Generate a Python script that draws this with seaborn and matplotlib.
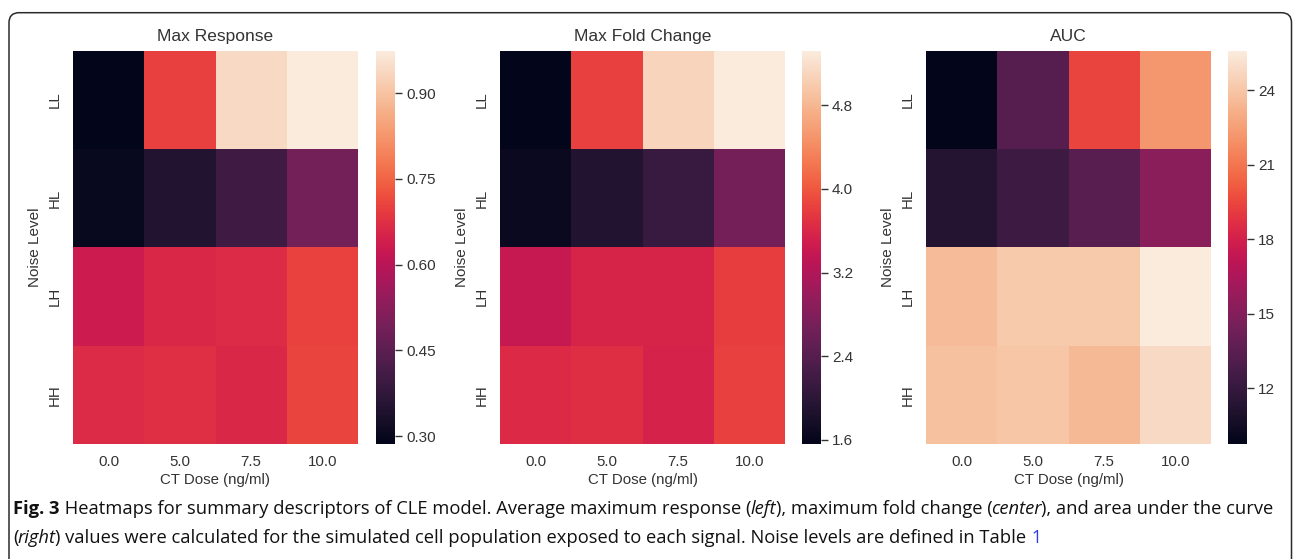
import numpy as np
import pandas as pd
import seaborn as sns
import matplotlib
matplotlib.use("Agg")
import matplotlib.pyplot as plt
from matplotlib.patches import FancyBboxPatch

# ---- data ----
doses = ["0.0", "5.0", "7.5", "10.0"]
noise_levels = ["LL", "HL", "LH", "HH"]

max_response = [
    [0.286, 0.700, 0.94, 0.974],
    [0.300, 0.350, 0.40, 0.490],
    [0.630, 0.660, 0.665, 0.705],
    [0.665, 0.675, 0.660, 0.706],
]
max_fold_change = [
    [1.56, 3.82, 5.09, 5.32],
    [1.67, 1.90, 2.13, 2.69],
    [3.40, 3.57, 3.57, 3.80],
    [3.62, 3.67, 3.55, 3.82],
]
auc = [
    [9.76, 13.3, 19.4, 22.2],
    [11.3, 12.3, 13.4, 15.2],
    [23.6, 24.2, 24.2, 25.57],
    [23.8, 24.0, 23.5, 24.8],
]
titles = ["Max Response", "Max Fold Change", "AUC"]
cbar_ticks = [
    [0.30, 0.45, 0.60, 0.75, 0.90],
    [1.6, 2.4, 3.2, 4.0, 4.8],
    [12, 15, 18, 21, 24],
]
cbar_fmt = ["{:.2f}", "{:.1f}", "{:.0f}"]

# ---- style ----
sns.set_theme(style="white")
plt.rcParams["font.family"] = ["Liberation Sans", "DejaVu Sans"]
text_col = "#333333"

W, H = 1293, 559
fig = plt.figure(figsize=(W / 100, H / 100), dpi=100)

def fx(px):
    return px / W

def fy(py):
    return 1 - py / H

ax_left = [73, 500, 926]
ax_w = 285
cb_left = [376, 802, 1228]
cb_w = 19
top, bottom = 51, 444

datasets = [max_response, max_fold_change, auc]
for i, data in enumerate(datasets):
    ax = fig.add_axes([fx(ax_left[i]), fy(bottom), fx(ax_w), (bottom - top) / H])
    cax = fig.add_axes([fx(cb_left[i]), fy(bottom), fx(cb_w), (bottom - top) / H])
    df = pd.DataFrame(data, index=noise_levels, columns=doses)
    sns.heatmap(df, ax=ax, cbar_ax=cax, cmap="rocket",
                cbar_kws={"ticks": cbar_ticks[i]})
    ax.set_title(titles[i], fontsize=12.5, color=text_col, pad=7)
    ax.set_xlabel("CT Dose (ng/ml)", fontsize=10.8, color=text_col, labelpad=3)
    ax.set_ylabel("Noise Level", fontsize=11, color=text_col, labelpad=4)
    ax.tick_params(axis="both", length=0, labelsize=10.8, colors=text_col, pad=8)
    ax.set_xticklabels(doses, rotation=0)
    ax.set_yticklabels(noise_levels, rotation=90, va="center")
    cax.set_yticklabels([cbar_fmt[i].format(t) for t in cbar_ticks[i]])
    cax.tick_params(axis="y", length=5, width=1, colors=text_col,
                    labelsize=11, pad=3)

# ---- frame ----
frame = FancyBboxPatch((0.09, -0.5), 12.825, 5.59 - 0.127 + 0.5,
                       boxstyle="round,pad=0,rounding_size=0.1",
                       transform=fig.dpi_scale_trans, fill=False,
                       edgecolor="#2b2b2b", linewidth=1.1, zorder=10)
fig.patches.append(frame)

# ---- caption ----
cap_font = ["Open Sans", "DejaVu Sans"]
cap_size = 13.2
dark = "#111111"
line1 = [
    ("Fig. 3", "bold", "normal", dark),
    (" Heatmaps for summary descriptors of CLE model. Average maximum response (", "normal", "normal", dark),
    ("left", "normal", "italic", dark),
    ("), maximum fold change (", "normal", "normal", dark),
    ("center", "normal", "italic", dark),
    ("), and area under the curve", "normal", "normal", dark),
]
line2 = [
    ("(", "normal", "normal", dark),
    ("right", "normal", "italic", dark),
    (") values were calculated for the simulated cell population exposed to each signal. Noise levels are defined in Table", "normal", "normal", dark),
    (" 1", "normal", "normal", "#2a3cf0"),
]

fig.canvas.draw()
renderer = fig.canvas.get_renderer()

def draw_line(pieces, x0_px, yc_px):
    x = x0_px
    prev_italic = False
    for txt, weight, style, col in pieces:
        italic = style == "italic"
        t = fig.text(fx(x), fy(yc_px), txt, fontsize=cap_size, family=cap_font,
                     fontweight=weight, fontstyle=style, color=col,
                     ha="left", va="center")
        bb = t.get_window_extent(renderer=renderer)
        # tighten spacing: shift back the start of italic runs after "("
        if italic:
            t.set_x(fx(x - 1.5))
            x += bb.width - 2.0
        else:
            x += bb.width + 0.5
        prev_italic = italic

draw_line(line1, 13, 509)
draw_line(line2, 13, 538)

fig.savefig("out.png", dpi=100)
